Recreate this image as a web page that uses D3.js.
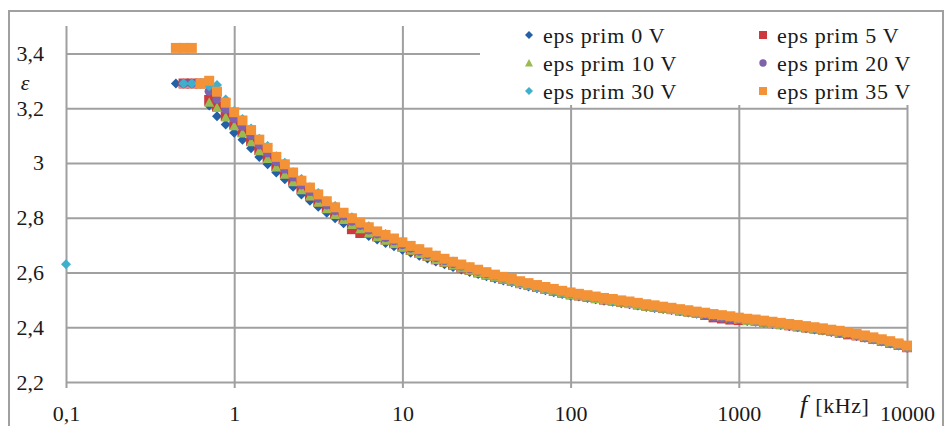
<!DOCTYPE html>
<html>
<head>
<meta charset="utf-8">
<script src="https://cdn.jsdelivr.net/npm/d3@7"></script>
<style>
  html, body { margin: 0; padding: 0; background: #fff; }
  svg { display: block; font-family: "Liberation Serif", "Times New Roman", serif; }
</style>
</head>
<body>
<svg id="chart" width="944" height="426"></svg>
<script>
// Measurement frequencies in kHz (log-spaced sweep, plus one low-frequency point)
const freqKHz = [0.1, 0.45, 0.5, 0.56, 0.63, 0.71, 0.79, 0.89, 1, 1.12, 1.26, 1.41, 1.58, 1.78, 2, 2.24, 2.51, 2.82, 3.16, 3.55, 3.98, 4.47, 5.01, 5.62, 6.31, 7.08, 7.94, 8.91, 10, 11.2, 12.6, 14.1, 15.8, 17.8, 20, 22.4, 25.1, 28.2, 31.6, 35.5, 39.8, 44.7, 50.1, 56.2, 63.1, 70.8, 79.4, 89.1, 100, 112, 126, 141, 158, 178, 200, 224, 251, 282, 316, 355, 398, 447, 501, 562, 631, 708, 794, 891, 1000, 1122, 1259, 1413, 1585, 1778, 1995, 2239, 2512, 2818, 3162, 3548, 3981, 4467, 5012, 5623, 6310, 7079, 7943, 8913, 10000];

// Real part of the permittivity for each bias voltage
const eps0V = [null, 3.29,3.29,3.29,3.29,3.21,3.17,3.14,3.11,3.085,3.054, 3.022,2.995,2.965,2.94,2.913,2.885,2.862,2.84,2.818,2.798, 2.78,2.762,2.748,2.733,2.72,2.708,2.696,2.683,2.672,2.661, 2.651,2.64,2.63,2.62,2.611,2.602,2.594,2.586,2.578,2.571, 2.564,2.556,2.549,2.542,2.535,2.528,2.521,2.515,2.512,2.507, 2.502,2.497,2.493,2.488,2.484,2.479,2.474,2.47,2.467,2.463, 2.458,2.454,2.449,2.445,2.44,2.436,2.432,2.427,2.423,2.42, 2.416,2.412,2.408,2.404,2.4,2.396,2.392,2.388,2.383,2.379, 2.374,2.368,2.362,2.355,2.348,2.341,2.333,2.325];
const eps5V = [null, null,3.29,3.29,3.29,3.23,3.206,3.172,3.14,3.113,3.08, 3.047,3.019,2.988,2.962,2.934,2.905,2.881,2.858,2.835,2.814, 2.795,2.758,2.744,2.746,2.732,2.72,2.707,2.694,2.682,2.671, 2.66,2.648,2.638,2.628,2.618,2.609,2.6,2.592,2.584,2.576, 2.569,2.561,2.554,2.547,2.54,2.533,2.526,2.52,2.516,2.511, 2.506,2.501,2.497,2.492,2.488,2.483,2.478,2.474,2.47,2.466, 2.461,2.457,2.452,2.445,2.436,2.432,2.428,2.426,2.426,2.423, 2.419,2.415,2.411,2.407,2.403,2.399,2.395,2.391,2.386,2.38, 2.374,2.37,2.364,2.357,2.35,2.343,2.335,2.327];
const eps10V = [null, null,3.29,3.29,3.29,3.222,3.202,3.168,3.136,3.109,3.077, 3.044,3.016,2.985,2.959,2.931,2.902,2.879,2.856,2.833,2.812, 2.793,2.775,2.76,2.744,2.73,2.718,2.706,2.692,2.681,2.669, 2.659,2.647,2.637,2.627,2.617,2.608,2.6,2.591,2.583,2.575, 2.568,2.56,2.553,2.546,2.539,2.532,2.525,2.519,2.515,2.51, 2.505,2.5,2.496,2.491,2.487,2.482,2.477,2.473,2.469,2.465, 2.46,2.456,2.451,2.447,2.442,2.438,2.434,2.429,2.425,2.422, 2.418,2.414,2.41,2.406,2.402,2.398,2.394,2.39,2.385,2.381, 2.376,2.37,2.364,2.357,2.35,2.343,2.335,2.327];
const eps20V = [null, null,3.29,3.29,3.29,3.262,3.233,3.196,3.162,3.134,3.1, 3.066,3.037,3.005,2.978,2.949,2.92,2.896,2.871,2.847,2.826, 2.807,2.787,2.772,2.755,2.741,2.728,2.716,2.702,2.689,2.678, 2.666,2.655,2.644,2.633,2.624,2.614,2.605,2.596,2.588,2.58, 2.572,2.564,2.557,2.55,2.543,2.536,2.529,2.523,2.519,2.514, 2.509,2.504,2.5,2.495,2.491,2.486,2.481,2.477,2.472,2.468, 2.463,2.459,2.454,2.446,2.437,2.433,2.429,2.428,2.427,2.424, 2.42,2.416,2.412,2.408,2.404,2.4,2.396,2.392,2.387,2.381, 2.376,2.371,2.365,2.358,2.351,2.344,2.336,2.328];
const eps30V = [2.63, null,3.29,3.29,3.29,3.28,3.285,3.232,3.19,3.16,3.126, 3.088,3.062,3.024,3.001,2.966,2.941,2.911,2.89,2.86,2.843, 2.817,2.802,2.781,2.769,2.749,2.74,2.722,2.712,2.695,2.686, 2.67,2.662,2.647,2.64,2.626,2.62,2.607,2.601,2.589,2.583, 2.573,2.566,2.558,2.551,2.544,2.537,2.53,2.524,2.519,2.514, 2.509,2.504,2.5,2.495,2.491,2.486,2.481,2.477,2.472,2.468, 2.463,2.459,2.454,2.45,2.445,2.441,2.437,2.432,2.428,2.425, 2.421,2.417,2.413,2.409,2.405,2.401,2.397,2.393,2.388,2.384, 2.379,2.373,2.367,2.36,2.353,2.346,2.338,2.33];
const eps35V = [null, 3.42,3.42,3.42,3.29,3.30,3.26,3.22,3.185,3.155,3.12, 3.085,3.055,3.022,2.995,2.965,2.935,2.91,2.885,2.86,2.838, 2.818,2.798,2.782,2.765,2.75,2.737,2.724,2.71,2.697,2.685, 2.673,2.661,2.65,2.639,2.629,2.619,2.61,2.601,2.592,2.584, 2.576,2.568,2.561,2.554,2.547,2.54,2.533,2.527,2.522,2.517, 2.512,2.507,2.503,2.498,2.494,2.489,2.484,2.48,2.475,2.471, 2.466,2.462,2.457,2.453,2.448,2.444,2.44,2.435,2.431,2.428, 2.424,2.42,2.416,2.412,2.408,2.404,2.4,2.396,2.391,2.387, 2.382,2.376,2.37,2.363,2.356,2.349,2.341,2.333];

const seriesNames = ["eps prim 0 V", "eps prim 5 V", "eps prim 10 V", "eps prim 20 V", "eps prim 30 V", "eps prim 35 V"];
const seriesColors = ["#2360a6", "#cc3a3d", "#9bbb50", "#7f62ab", "#3fb0cc", "#f39237"];
const seriesShapes = ["diamond", "square", "triangle", "circle", "diamond", "square"];

const xTicks = [0.1, 1, 10, 100, 1000, 10000];
const xTickLabels = ["0,1", "1", "10", "100", "1000", "10000"];
const yTicks = [2.2, 2.4, 2.6, 2.8, 3, 3.2, 3.4];
const yTickLabels = ["2,2", "2,4", "2,6", "2,8", "3", "3,2", "3,4"];

const seriesValues = [eps0V, eps5V, eps10V, eps20V, eps30V, eps35V];

const svg = d3.select("#chart");
const plot = { left: 66, right: 907, top: 26, bottom: 382 };
const gridColor = "#a0a0a0";
const textColor = "#1a1a1a";

const x = d3.scaleLog().domain([0.1, 10000]).range([plot.left, plot.right]);
const y = d3.scaleLinear().domain([2.2, 3.5]).range([plot.bottom, plot.top]);

// Outer frame
svg.append("path")
  .attr("d", "M9,426V11H943V426")
  .attr("fill", "none").attr("stroke", "#a0a0a0").attr("stroke-width", 2);

// Horizontal grid and value labels
const yAxis = svg.append("g")
  .attr("transform", `translate(${plot.left},0)`)
  .call(d3.axisLeft(y).tickValues(yTicks)
    .tickFormat((d, i) => yTickLabels[i])
    .tickSize(-(plot.right - plot.left))
    .tickPadding(22));
yAxis.select(".domain").remove();
yAxis.selectAll(".tick line").attr("stroke", gridColor).attr("stroke-width", 2);
yAxis.selectAll(".tick text")
  .attr("font-family", "Liberation Serif, serif")
  .attr("font-size", 22).attr("fill", textColor);

// Vertical grid (decades) and frequency labels
const xAxis = svg.append("g")
  .attr("transform", `translate(0,${plot.bottom + 6})`)
  .call(d3.axisBottom(x).tickValues(xTicks)
    .tickFormat((d, i) => xTickLabels[i])
    .tickSize(-(plot.bottom + 6 - plot.top))
    .tickPadding(17));
xAxis.select(".domain").remove();
xAxis.selectAll(".tick line").attr("stroke", gridColor).attr("stroke-width", 2);
xAxis.selectAll(".tick text")
  .attr("font-family", "Liberation Serif, serif")
  .attr("font-size", 22).attr("fill", textColor);

// Legend panel (opaque, sits over the upper grid)
const legend = svg.append("g");
legend.append("rect")
  .attr("x", 480).attr("y", 12).attr("width", 455).attr("height", 93)
  .attr("fill", "#fff");

function markerPath(shape, s) {
  switch (shape) {
    case "diamond": return `M0,${-5*s}L${5*s},0L0,${5*s}L${-5*s},0Z`;
    case "square": return `M${-5*s},${-5*s}h${10*s}v${10*s}h${-10*s}Z`;
    case "triangle": return `M0,${-5*s}L${5*s},${4.5*s}L${-5*s},${4.5*s}Z`;
    default: return d3.arc()({ innerRadius: 0, outerRadius: 4.6*s, startAngle: 0, endAngle: 2*Math.PI });
  }
}

const legendCols = [529, 763];
const legendRows = [35, 63, 91];
seriesNames.forEach((name, i) => {
  const cx = legendCols[i % 2], cy = legendRows[Math.floor(i / 2)];
  legend.append("path")
    .attr("d", markerPath(seriesShapes[i], 0.8))
    .attr("transform", `translate(${cx},${cy})`)
    .attr("fill", seriesColors[i]);
  legend.append("text")
    .attr("x", cx + 14).attr("y", cy)
    .attr("dy", "0.35em")
    .attr("font-size", 22).attr("letter-spacing", 0.7)
    .attr("fill", textColor)
    .text(name);
});

// Data markers, later series drawn on top
const marks = svg.append("g");
seriesValues.forEach((vals, i) => {
  const pts = freqKHz.map((f, j) => ({ f, v: vals[j] })).filter(d => d.v != null);
  marks.append("g").selectAll("path")
    .data(pts)
    .join("path")
    .attr("d", markerPath(seriesShapes[i], 1))
    .attr("transform", d => `translate(${x(d.f)},${y(d.v)})`)
    .attr("fill", seriesColors[i]);
});

// Axis titles
svg.append("text")
  .attr("x", 25).attr("y", 82).attr("dy", "0.35em")
  .attr("text-anchor", "middle")
  .attr("font-size", 22).attr("font-style", "italic").attr("fill", textColor)
  .text("ε");

const fLabel = svg.append("text")
  .attr("x", 800).attr("y", 413)
  .attr("font-size", 22).attr("fill", textColor);
fLabel.append("tspan").attr("font-style", "italic").attr("font-size", 26).text("f");
fLabel.append("tspan").attr("dx", 8).attr("letter-spacing", 0.6).text("[kHz]");
</script>
</body>
</html>
